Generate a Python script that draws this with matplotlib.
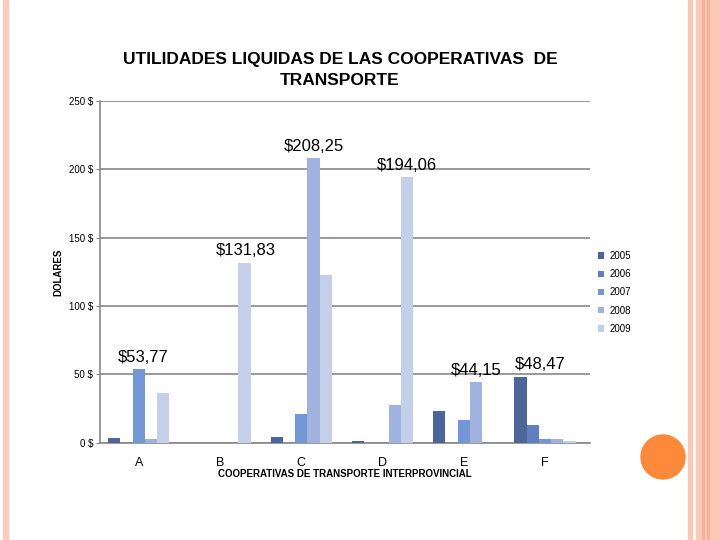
import numpy as np
import matplotlib
matplotlib.use("Agg")
import matplotlib.pyplot as plt
from matplotlib.patches import Rectangle, Ellipse

plt.rcParams['font.family'] = ['Liberation Sans', 'DejaVu Sans']

# data
cooperativas = ["A", "B", "C", "D", "E", "F"]
years = ["2005", "2006", "2007", "2008", "2009"]
v2005 = [3.5, 0, 4.5, 1.5, 23, 48.47]
v2006 = [0, 0, 0, 0, 0, 13.2]
v2007 = [53.77, 0, 21.2, 0, 17, 3]
v2008 = [2.5, 0, 208.25, 28, 44.15, 2.5]
v2009 = [36.5, 131.83, 123, 194.06, 0, 1.5]
series = [v2005, v2006, v2007, v2008, v2009]
colors = ["#4c6699", "#5f7fbf", "#7396d6", "#a0b3df", "#c4cfe9"]

# highlighted labels: (group, series index, text)
labels = [(0, 2, "$53,77"), (1, 4, "$131,83"), (2, 3, "$208,25"),
          (3, 4, "$194,06"), (4, 3, "$44,15"), (5, 0, "$48,47")]
label_dx = {0: 3, 1: 1, 5: 14}

fig = plt.figure(figsize=(7.2, 5.4), dpi=100)
ax = fig.add_axes([0.139, 0.18, 0.68, 0.633])

x = np.arange(len(cooperativas))
w = 0.151
for i, (vals, yr, c) in enumerate(zip(series, years, colors)):
    ax.bar(x + (i - 2) * w, vals, width=w, color=c, label=yr, zorder=3)

for g, s, txt in labels:
    ax.annotate(txt, (x[g] + (s - 2) * w, series[s][g]),
                xytext=(label_dx.get(g, 0), 3),
                textcoords="offset points", ha="center", va="bottom", fontsize=12)

ax.set_ylim(0, 250)
ax.set_xlim(-0.475, 5.55)
ax.set_yticks(np.arange(0, 251, 50))
ax.set_yticklabels([f"{v} $" for v in range(0, 251, 50)], fontsize=7)
ax.set_xticks(x)
ax.set_xticklabels(cooperativas, fontsize=9)
ax.tick_params(axis="y", length=3, color="#888888", pad=2)
ax.tick_params(axis="x", length=0, pad=10)
ax.grid(axis="y", color="#888888", linewidth=1.2, zorder=0)
for side in ["top", "right"]:
    ax.spines[side].set_visible(False)
for side in ["left", "bottom"]:
    ax.spines[side].set_color("#888888")
    ax.spines[side].set_linewidth(1.2)

ax.set_xlabel("COOPERATIVAS DE TRANSPORTE INTERPROVINCIAL", fontsize=7,
              fontweight="bold", labelpad=0)
ax.set_ylabel("DOLARES", fontsize=7, fontweight="bold", labelpad=4)
fig.text(0.472, 0.871, "UTILIDADES LIQUIDAS DE LAS COOPERATIVAS  DE\nTRANSPORTE",
         ha="center", va="center", fontsize=12.5, fontweight="bold", linespacing=1.5)

leg = ax.legend(loc="center left", bbox_to_anchor=(1.0, 0.44), frameon=False,
                fontsize=7, handlelength=0.6, handleheight=0.6, labelspacing=0.85,
                handletextpad=0.5)

# slide decorations
fig.patches.append(Rectangle((3 / 720, 0), 5 / 720, 1, transform=fig.transFigure,
                             color="#f9cbb8", zorder=0))
fig.patches.append(Rectangle((688 / 720, 0), 4 / 720, 1, transform=fig.transFigure,
                             color="#f8c9b5", zorder=0))
fig.patches.append(Rectangle((696 / 720, 0), 24 / 720, 1, transform=fig.transFigure,
                             color="#fbc9b6", zorder=0))
fig.patches.append(Rectangle((702 / 720, 0), 1.5 / 720, 1, transform=fig.transFigure,
                             color="#f2b39c", zorder=0))
fig.patches.append(Rectangle((707 / 720, 0), 1.5 / 720, 1, transform=fig.transFigure,
                             color="#f2b39c", zorder=0))
fig.patches.append(Ellipse((663 / 720, 1 - 457 / 540), 44 / 720, 44 / 540,
                           transform=fig.transFigure, color="#fd8a3a", zorder=0))

fig.savefig("out.png", dpi=100)
